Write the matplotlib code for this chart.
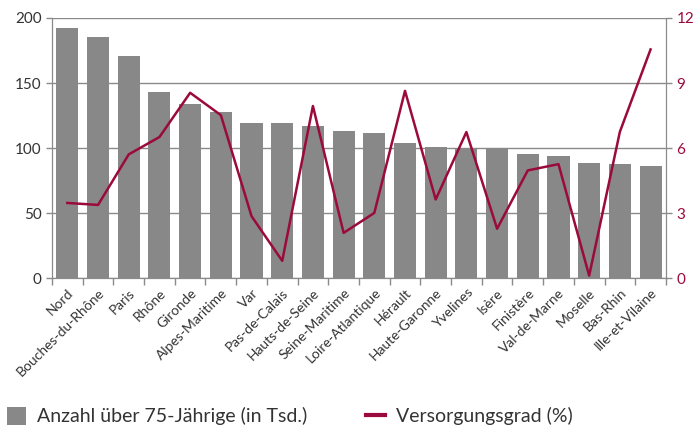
import matplotlib
matplotlib.use("Agg")
import matplotlib.pyplot as plt
import numpy as np
from matplotlib.patches import Patch
from matplotlib.lines import Line2D

categories = ["Nord", "Bouches-du-Rhône", "Paris", "Rhône", "Gironde", "Alpes-Maritime",
              "Var", "Pas-de-Calais", "Hauts-de-Seine", "Seine-Maritime", "Loire-Atlantique",
              "Hérault", "Haute-Garonne", "Yvelines", "Isère", "Finistère", "Val-de-Marne",
              "Moselle", "Bas-Rhin", "Ille-et-Vilaine"]
anzahl = [192, 185, 171, 143, 134, 128, 119, 119, 117, 113, 111.5, 104, 101, 100, 100,
          95.5, 94, 88.5, 88, 86]
versorgung = [3.47, 3.38, 5.71, 6.51, 8.55, 7.52, 2.86, 0.80, 7.94, 2.09, 3.01, 8.64,
              3.63, 6.74, 2.28, 4.97, 5.26, 0.12, 6.75, 10.55]
left_ticks = [0, 50, 100, 150, 200]
right_ticks = [0, 3, 6, 9, 12]

plt.rcParams['font.family'] = ['Lato', 'DejaVu Sans']
bar_color = "#888888"
line_color = "#9b0a3c"
grid_color = "#8a8a8a"
text_color = "#333333"

fig = plt.figure(figsize=(7, 4.28), dpi=100)
ax = fig.add_axes([0.0743, 0.350, 0.877, 0.608])
x = np.arange(len(categories))
ax.bar(x, anzahl, width=0.72, color=bar_color, zorder=2)
ax.set_xlim(-0.5, len(categories) - 0.5)
ax.set_ylim(0, 200)
ax.set_yticks(left_ticks)
ax.yaxis.grid(True, color=grid_color, linewidth=1, zorder=0)
ax.set_axisbelow(True)
ax.tick_params(axis='y', colors=grid_color, labelcolor=text_color, labelsize=11, length=4, width=1)
ax.set_xticks(x)
ax.set_xticklabels(categories, rotation=45, ha='right', rotation_mode='anchor', fontsize=10, color=text_color)
ax.tick_params(axis='x', which='major', length=0, pad=6)
ax.set_xticks(np.arange(-0.5, len(categories), 1), minor=True)
ax.tick_params(axis='x', which='minor', length=5, color=grid_color, width=1, direction='out')
for s in ['top']:
    ax.spines[s].set_visible(False)
for s in ['left', 'bottom', 'right']:
    ax.spines[s].set_color(grid_color)

ax2 = ax.twinx()
ax2.plot(x, versorgung, color=line_color, linewidth=1.8, zorder=3)
ax2.set_ylim(0, 12)
ax2.set_yticks(right_ticks)
ax2.tick_params(axis='y', colors=grid_color, labelcolor=line_color, labelsize=11, length=4, width=1)
ax2.spines['top'].set_visible(False)
for s in ['left', 'bottom', 'right']:
    ax2.spines[s].set_color(grid_color)

handles = [Patch(facecolor=bar_color, edgecolor='none'),
           Line2D([0], [0], color=line_color, linewidth=3)]
labels = ["Anzahl über 75-Jährige (in Tsd.)", "Versorgungsgrad (%)"]
fig.legend(handles, labels, loc='lower left', bbox_to_anchor=(-0.015, -0.035), ncol=2,
           frameon=False, fontsize=14, handlelength=1.0, handleheight=1.0,
           columnspacing=3.0, handletextpad=0.55, labelcolor=text_color)

fig.savefig("out.png", dpi=100)
